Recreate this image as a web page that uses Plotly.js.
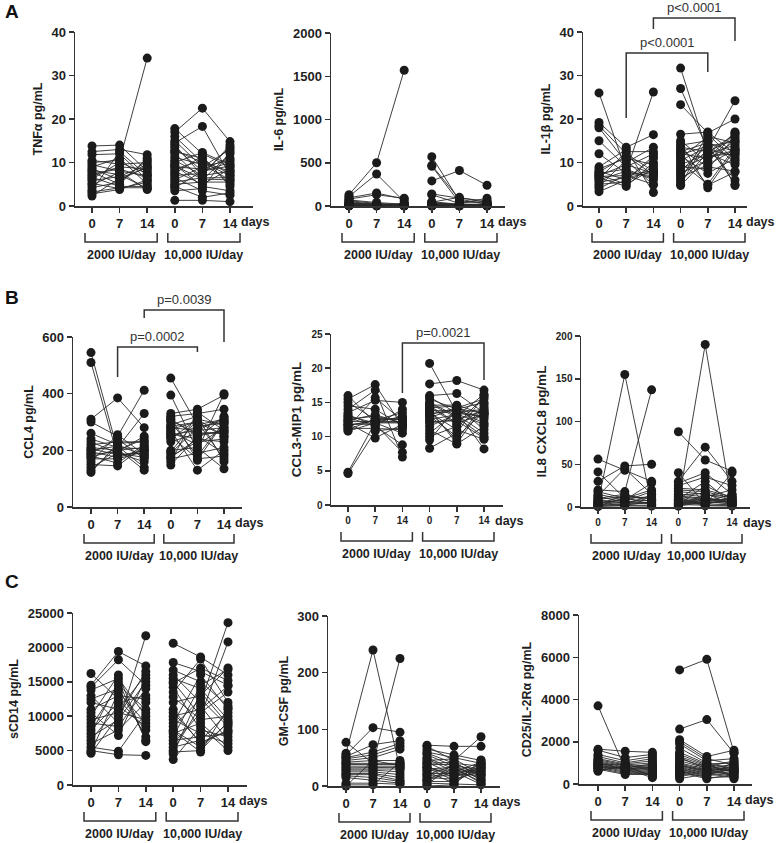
<!DOCTYPE html>
<html>
<head>
<meta charset="utf-8">
<script src="https://cdn.plot.ly/plotly-3.0.1.min.js"></script>
<style>html,body{margin:0;padding:0;background:#fff;}</style>
</head>
<body>
<div id="fig" style="width:776px;height:843px;"></div>
<script>
// tick labels and group names
var dayLabels = ['0', '7', '14'];
var groupNames = ['2000 IU/day', '10,000 IU/day'];

// TNFa
var tnfLoD0 = [13.8,12.5,11.8,10.5,10,9.5,9,8.6,8.2,7.8,7.4,7,6.6,6.2,5.8,5.2,4.8,4.2,3.6,3.2,2.8,2.3];
var tnfLoD7 = [14,13,12,9.6,10.5,8,11,6,7.2,5,8.5,9,4.5,10,6.8,4,7.8,5.5,12.5,4.2,3.8,6.4];
var tnfLoD14 = [8,11.8,6,10,34,7,5,9,4,11,6.5,8.5,4.5,7.5,9.5,5.5,3.8,10.5,7,4.2,6,8.8];
var tnfHiD0 = [17.8,17,16,15,14.5,13.5,12.5,12,11.2,10.5,10,9.5,9,8.5,8,7.5,7,6.5,6,5.5,5,4.5,4.2,3.5,12.8,9.2,1.3,14];
var tnfHiD7 = [12,22.5,10,9,18.3,8,11,6,9.5,7,12.3,4.5,8.5,10.5,5,11.5,7.5,3.5,9,6.5,5.5,2,8,4,10,6.2,1.3,7];
var tnfHiD14 = [9,14.8,8,13,7,10,5,12,6,14,9.5,3.5,11,7.5,8.5,4.5,13.5,2.5,10.5,6.5,5.5,3,9.2,12.5,7,6,1,8];

// IL-6
var il6LoD0 = [130,110,95,80,70,60,50,40,35,30,25,20,15,12,10,8,6,5,4,3,2,1];
var il6LoD7 = [500,370,150,130,40,30,20,15,10,25,8,5,12,6,4,18,3,2,7,9,1,11];
var il6LoD14 = [1570,50,80,90,20,10,15,12,5,8,6,4,30,3,10,2,7,5,1,15,3,2];
var il6HiD0 = [570,470,460,290,140,130,50,45,40,30,25,20,15,12,10,8,6,5,4,3,2,1,35,18,9,7,3,2];
var il6HiD7 = [60,80,40,410,90,30,20,100,15,10,8,12,5,25,6,3,4,2,18,7,9,1,14,5,3,20,2,6];
var il6HiD14 = [30,20,50,240,60,90,10,40,8,5,15,6,3,12,20,2,4,7,25,10,3,1,5,9,2,6,4,8];

// IL-1b
var il1bLoD0 = [26,19.2,18.5,18,15,12,9,8.5,8,7.5,7.2,7,6.8,6.5,6.2,6,5.5,5,4.5,4,3.3,7.8];
var il1bLoD7 = [8,13.5,12,10,9,7.5,13,11,6,8.5,5,9.5,7,4.5,12.5,8,6.5,5.5,10.5,7.2,6,11.5];
var il1bLoD14 = [26.2,16.4,8,13.5,12,7,3.1,9.5,11,6,8.5,7.5,5,10,12.5,6.5,7.8,9,4.8,8,11.5,7.2];
var il1bHiD0 = [31.7,27,23.3,16.5,15,14.5,14,13.5,13,12.5,12,11.5,11,10.5,10,9.5,9,8.5,8,7.5,7,6.5,6,5.5,5,4.7,12.2,11.8];
var il1bHiD7 = [12,13,16.8,17,10,4.2,15,12.5,9,14.5,11,7.5,16,13.5,5,12,8.5,11.5,14,10.5,13,9.5,16.5,12.3,15.5,11.2,4.8,13.8];
var il1bHiD14 = [14,24.2,20,12,16.8,13,10,15.5,8,12.5,17,11,14.5,6,13.5,9.5,16,12,5,15,11.5,13,10.5,16.5,4.7,12.8,7.8,14.8];

// CCL4
var ccl4LoD0 = [545,510,310,300,260,240,230,220,210,205,200,195,190,185,180,175,170,160,150,140,130,122];
var ccl4LoD7 = [200,180,385,250,220,210,190,230,200,185,215,175,240,195,155,205,170,255,145,190,210,225];
var ccl4LoD14 = [240,200,280,412,180,330,160,230,210,190,140,200,170,250,220,130,195,185,215,175,205,230];
var ccl4HiD0 = [455,395,330,320,310,300,290,280,275,270,260,250,240,230,200,190,180,170,160,148,315,285,265,255,195,175,305,245];
var ccl4HiD7 = [290,200,345,330,250,180,320,270,300,130,240,170,310,260,210,280,230,190,335,250,165,300,220,270,310,240,260,285];
var ccl4HiD14 = [310,400,395,345,270,300,160,280,250,200,320,180,290,260,135,305,240,210,270,190,300,170,280,315,250,230,265,295];

// CCL3-MIP1
var ccl3LoD0 = [16,15.5,15,14,13.5,13,12.8,12.5,12.2,12,11.8,11.6,11.4,11.2,11,10.8,12.4,13.2,14.5,11.7,4.8,4.6];
var ccl3LoD7 = [12,17.6,12.5,16.8,15.3,12,11.5,13,12.2,9.8,11.8,12.4,15.7,11.2,12.6,12,13.2,11.6,14,12.3,12.1,10.8];
var ccl3LoD14 = [12,11.5,12.5,7,15,13,8.8,12,12.2,11.8,7.7,13.5,12.3,11,12.6,10.5,12,14,11.6,12.8,12.1,11.3];
var ccl3HiD0 = [20.7,17.7,16,15.5,15,14.5,14.2,14,13.8,13.5,13.2,13,12.5,12,11,10.5,10,9.5,8.3,15.8,14.8,13.6,12.8,11.5,14.3,13.4,12.2,14.6];
var ccl3HiD7 = [13.5,18.2,16.3,14,13,12,14.5,9,13.8,11,14.2,10,13.2,12.5,8.9,13.6,11.5,14.3,10.5,13.4,12.8,9.5,14.1,13.3,11.8,13.7,12.3,14.6];
var ccl3HiD14 = [14,16.8,13.5,15,16.2,13.2,11,14.5,12,9.6,15.5,13.6,10.5,13.8,11.5,8.2,14.2,12.5,16,13,10,14.8,13.4,11.8,15.8,12.8,9.8,13.3];

// IL8 CXCL8
var il8LoD0 = [56,41,30,20,18,15,13,12,10,9,8,7,6,5,4.5,4,3,2.5,2,1.5,1,0.5];
var il8LoD7 = [43,10,48,18,10,8,45,6,15,12,5,7,4,155,9,2,14,6,3,1.5,11,2];
var il8LoD14 = [30,20,50,137,12,28,15,8,6,10,5,18,4,3,7,2,9,5,14,1,3,6];
var il8HiD0 = [88,40,30,28,25,22,20,18,15,13,12,10,9,8,7,6,5,4,3.5,3,2.5,2,1.5,1,11,6.5,14,4.5];
var il8HiD7 = [55,3,70,40,35,20,18,15,12,10,9,8,30,7,6,5,4,190,14,2,11,25,9,6,1.5,4,16,3];
var il8HiD14 = [42,40,30,15,25,12,10,8,20,6,5,9,4,3.5,15,7,2.5,3,12,2,6,10,5,4,1,8,3,11];

// sCD14
var cd14LoD0 = [16200,14500,14200,13800,13000,12500,12000,11000,10500,10000,9500,9000,8500,8000,7500,7000,6500,6000,5500,5000,4800,4600];
var cd14LoD7 = [12500,19400,18200,15500,9000,14000,11000,13000,7200,16000,10500,8500,14500,12000,15000,9500,11500,8000,4900,4400,13500,10000];
var cd14LoD14 = [8000,17300,14500,10000,21700,7000,16000,12500,15500,6300,9500,14000,11000,13000,6500,15000,8500,12000,10500,4300,9000,16500];
var cd14HiD0 = [20600,17800,16700,16000,15500,15000,14200,13500,12800,12000,11000,10000,9500,9000,8500,8000,7500,7000,6500,6000,5500,5000,4800,4500,3700,14800,10500,7800];
var cd14HiD7 = [18600,16500,15000,12000,14000,10000,8000,18300,9500,13000,6000,11000,7500,16000,12500,5500,9000,14500,7000,10500,6500,11500,5000,13500,8500,17000,6200,4800];
var cd14HiD14 = [16000,14500,11500,23600,9500,20800,7000,12000,10000,17000,8000,14400,6000,11000,8500,9000,5500,16800,7500,13500,10500,6500,9200,8800,5000,15200,7800,11200];

// GM-CSF
var gmLoD0 = [77,58,55,52,50,48,45,42,40,38,35,32,30,28,25,22,20,18,15,5,2,0];
var gmLoD7 = [40,240,103,73,60,55,50,45,40,38,35,32,30,28,25,22,20,15,10,5,2,45];
var gmLoD14 = [225,30,95,80,75,70,65,45,40,38,35,33,30,25,20,15,10,8,5,3,42,36];
var gmHiD0 = [72,70,65,60,58,55,50,48,45,42,40,38,35,32,30,28,25,22,20,18,15,12,10,8,5,2,0,33];
var gmHiD7 = [70,45,55,50,40,35,30,25,48,20,42,38,15,10,33,28,5,22,36,18,12,30,25,8,3,40,2,20];
var gmHiD14 = [70,87,45,40,35,30,25,42,20,38,15,10,32,28,5,22,36,18,12,30,25,8,3,40,2,20,46,33];

// CD25/IL-2Ra
var cd25LoD0 = [3700,1650,1600,1400,1300,1200,1150,1100,1050,1000,950,900,850,800,750,700,650,600,880,1020,930,780];
var cd25LoD7 = [700,1550,1250,1100,1000,950,900,850,800,750,700,650,600,550,500,450,820,880,720,680,930,760];
var cd25LoD14 = [800,1500,1400,1300,1200,1100,1000,900,850,800,700,650,600,550,500,450,400,350,300,750,620,950];
var cd25HiD0 = [5400,2600,2100,2000,1900,1700,1500,1400,1300,1200,1100,1000,950,900,850,800,750,700,650,600,550,500,450,400,350,250,1250,880];
var cd25HiD7 = [5900,3050,1300,1200,1100,1000,950,900,850,800,750,700,650,600,550,500,450,400,350,300,250,1050,820,680,580,480,720,620];
var cd25HiD14 = [1500,1450,1600,900,1200,700,1000,550,850,1100,600,950,400,800,650,300,750,500,1050,350,450,250,680,820,480,580,620,720];

var W = 776, H = 843;
var FONT = 'Arial, "Liberation Sans", sans-serif';
var INK = '#1f1f1f';

// panel boxes in pixels: y axis x, x axis end, top, bottom, first and last category
var panels = [
  {title:'TNFα pg/mL', ymax:40, dtick:10, lo:[tnfLoD0,tnfLoD7,tnfLoD14], hi:[tnfHiD0,tnfHiD7,tnfHiD14],
   box:{x0:75, x1:253, top:32, bot:206, c1:92, c6:230}},
  {title:'IL-6 pg/mL', ymax:2000, dtick:500, lo:[il6LoD0,il6LoD7,il6LoD14], hi:[il6HiD0,il6HiD7,il6HiD14],
   box:{x0:331, x1:505, top:33, bot:206, c1:349, c6:487}},
  {title:'IL-1β pg/mL', ymax:40, dtick:10, lo:[il1bLoD0,il1bLoD7,il1bLoD14], hi:[il1bHiD0,il1bHiD7,il1bHiD14],
   box:{x0:583, x1:747, top:32, bot:206, c1:599, c6:735}},
  {title:'CCL4 pg/mL', ymax:600, dtick:200, lo:[ccl4LoD0,ccl4LoD7,ccl4LoD14], hi:[ccl4HiD0,ccl4HiD7,ccl4HiD14],
   box:{x0:73, x1:242, top:337, bot:507, c1:91, c6:224}},
  {title:'CCL3-MIP1 pg/mL', ymax:25, dtick:5, small:true, lo:[ccl3LoD0,ccl3LoD7,ccl3LoD14], hi:[ccl3HiD0,ccl3HiD7,ccl3HiD14],
   box:{x0:331, x1:503, top:334, bot:505, c1:348, c6:484}},
  {title:'IL8 CXCL8 pg/mL', ymax:200, dtick:50, small:true, lo:[il8LoD0,il8LoD7,il8LoD14], hi:[il8HiD0,il8HiD7,il8HiD14],
   box:{x0:581, x1:750, top:336, bot:507, c1:598, c6:732}},
  {title:'sCD14 pg/mL', ymax:25000, dtick:5000, lo:[cd14LoD0,cd14LoD7,cd14LoD14], hi:[cd14HiD0,cd14HiD7,cd14HiD14],
   box:{x0:73, x1:247, top:613, bot:785, c1:91, c6:228}},
  {title:'GM-CSF pg/mL', ymax:300, dtick:100, lo:[gmLoD0,gmLoD7,gmLoD14], hi:[gmHiD0,gmHiD7,gmHiD14],
   box:{x0:328, x1:500, top:616, bot:786, c1:346, c6:481}},
  {title:'CD25/IL-2Rα pg/mL', ymax:8000, dtick:2000, lo:[cd25LoD0,cd25LoD7,cd25LoD14], hi:[cd25HiD0,cd25HiD7,cd25HiD14],
   box:{x0:579, x1:752, top:615, bot:784, c1:598, c6:734}}
];

// significance brackets: panel, categories, pixel heights
var sig = [
  {p:2, a:2, b:5, line:53, l:118, r:72, t:43, text:'p&lt;0.0001'},
  {p:2, a:3, b:6, line:18, l:29, r:41, t:8, text:'p&lt;0.0001'},
  {p:3, a:2, b:5, line:347, l:377, r:352, t:337, text:'p=0.0002'},
  {p:3, a:3, b:6, line:310, l:318, r:342, t:299, text:'p=0.0039'},
  {p:4, a:3, b:6, line:343, l:393, r:380, t:332, text:'p=0.0021'}
];

var letters = [{t:'A', y:12}, {t:'B', y:297}, {t:'C', y:581}];

function catPx(box, c) { return box.c1 + (c - 1) * (box.c6 - box.c1) / 5; }
function fx(px) { return px / W; }
function fy(py) { return 1 - py / H; }

function pairTrace(sets, xs, k) {
  var x = [], y = [];
  var n = Math.min(sets[0].length, sets[1].length, sets[2].length);
  for (var i = 0; i < n; i++) {
    for (var d = 0; d < 3; d++) { x.push(xs[d]); y.push(sets[d][i]); }
    x.push(null); y.push(null);
  }
  return {
    type: 'scatter', mode: 'lines+markers', x: x, y: y,
    xaxis: 'x' + k, yaxis: 'y' + k, cliponaxis: false,
    line: {color: '#2a2a2a', width: 0.9},
    marker: {size: 9, color: '#1b1b1b'},
    hoverinfo: 'skip', showlegend: false
  };
}

var data = [];
var layout = {
  width: W, height: H,
  margin: {l: 0, r: 0, t: 0, b: 0},
  paper_bgcolor: '#fff', plot_bgcolor: 'rgba(0,0,0,0)',
  font: {family: FONT, color: INK, size: 13},
  showlegend: false,
  shapes: [], annotations: []
};

function bracketPath(pts) {
  return pts.map(function (p, i) { return (i ? 'L' : 'M') + fx(p[0]) + ',' + fy(p[1]); }).join(' ');
}

panels.forEach(function (pn, idx) {
  var k = idx === 0 ? '' : String(idx + 1);
  var b = pn.box;
  var unit = (b.c6 - b.c1) / 5;
  var tickFont = {size: pn.small ? 10 : 13, color: INK, weight: 'bold'};

  data.push(pairTrace(pn.lo, [1, 2, 3], k));
  data.push(pairTrace(pn.hi, [4, 5, 6], k));

  layout['xaxis' + k] = {
    domain: [fx(b.x0), fx(b.x1)],
    range: [1 - (b.c1 - b.x0) / unit, 6 + (b.x1 - b.c6) / unit],
    anchor: 'y' + k,
    tickvals: [1, 2, 3, 4, 5, 6],
    ticktext: dayLabels.concat(dayLabels),
    ticks: 'outside', ticklen: 5, tickwidth: 1.5, tickcolor: '#333',
    showline: true, linecolor: '#333', linewidth: 1.5,
    showgrid: false, zeroline: false, fixedrange: true,
    tickfont: tickFont
  };
  layout['yaxis' + k] = {
    domain: [fy(b.bot), fy(b.top)],
    range: [0, pn.ymax],
    anchor: 'x' + k,
    tick0: 0, dtick: pn.dtick, tickformat: 'd',
    ticks: 'outside', ticklen: 5, tickwidth: 1.5, tickcolor: '#333',
    showline: true, linecolor: '#333', linewidth: 1.5,
    showgrid: false, zeroline: false, fixedrange: true,
    tickfont: tickFont,
    title: {text: pn.title, font: {size: pn.small ? 13.5 : 12.5, color: INK, weight: 'bold'}, standoff: 6}
  };

  // "days" label
  layout.annotations.push({
    xref: 'paper', yref: 'paper', x: fx(b.c6 + 9), y: fy(b.bot + 16),
    xanchor: 'left', yanchor: 'middle', showarrow: false,
    text: 'days', font: {size: 12.5, color: INK, weight: 'bold'}
  });

  // group brackets under the axis
  [[1, 3], [4, 6]].forEach(function (g, gi) {
    var xa = catPx(b, g[0]) - 7, xb = catPx(b, g[1]) + 10;
    layout.shapes.push({
      type: 'path', xref: 'paper', yref: 'paper',
      path: bracketPath([[xa, b.bot + 27], [xa, b.bot + 36], [xb, b.bot + 36], [xb, b.bot + 27]]),
      line: {color: '#333', width: 1.5}
    });
    layout.annotations.push({
      xref: 'paper', yref: 'paper', x: fx((xa + xb) / 2), y: fy(b.bot + 49),
      xanchor: 'center', yanchor: 'middle', showarrow: false,
      text: groupNames[gi], font: {size: 12.5, color: INK, weight: 'bold'}
    });
  });
});

sig.forEach(function (s) {
  var b = panels[s.p].box;
  var xa = catPx(b, s.a), xb = catPx(b, s.b);
  layout.shapes.push({
    type: 'path', xref: 'paper', yref: 'paper',
    path: bracketPath([[xa, s.l], [xa, s.line], [xb, s.line], [xb, s.r]]),
    line: {color: '#333', width: 1.5}
  });
  layout.annotations.push({
    xref: 'paper', yref: 'paper', x: fx((xa + xb) / 2), y: fy(s.t),
    xanchor: 'center', yanchor: 'middle', showarrow: false,
    text: s.text, font: {size: 13, color: '#333'}
  });
});

letters.forEach(function (l) {
  layout.annotations.push({
    xref: 'paper', yref: 'paper', x: fx(3), y: fy(l.y),
    xanchor: 'left', yanchor: 'middle', showarrow: false,
    text: '<b>' + l.t + '</b>', font: {size: 19, color: '#111'}
  });
});

Plotly.newPlot('fig', data, layout, {displayModeBar: false, staticPlot: true});
</script>
</body>
</html>
